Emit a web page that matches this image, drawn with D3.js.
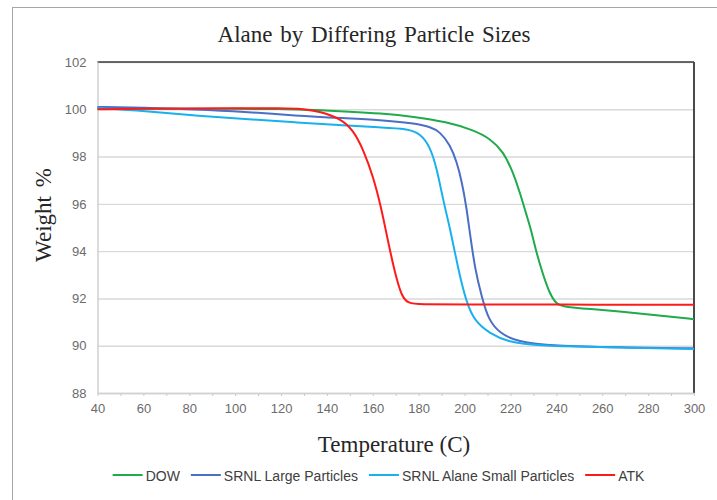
<!DOCTYPE html>
<html>
<head>
<meta charset="utf-8">
<script src="https://cdnjs.cloudflare.com/ajax/libs/d3/7.8.5/d3.min.js"></script>
<style>
  body { margin: 0; background: #fff; }
  svg { display: block; }
</style>
</head>
<body>
<div id="chart"></div>
<script>

// DATA

var seriesNames = ["DOW", "SRNL Large Particles", "SRNL Alane Small Particles", "ATK"]
var seriesColors = ["#1faa4b", "#4a6fc6", "#18b1ee", "#ff1a1a"]

var dowTemp = [40, 60, 80, 100, 120, 135, 150, 163, 178, 192, 204, 211, 217, 221, 224, 227, 229, 231, 234, 237, 240, 243, 255, 268, 285, 300]
var dowWeight = [100.02, 100.02, 100.02, 100.02, 100.02, 99.97, 99.9, 99.83, 99.69, 99.47, 99.12, 98.77, 98.2, 97.36, 96.51, 95.53, 94.9, 94.05, 93.06, 92.22, 91.76, 91.65, 91.55, 91.44, 91.28, 91.12]

var largeTemp = [40, 60, 82, 104, 126, 148, 163, 178, 185, 189.3, 193.7, 196.6, 198.8, 200.9, 202.1, 204.6, 207.5, 210.4, 215.5, 222.7, 238.7, 268, 300]
var largeWeight = [100.1, 100.07, 100.0, 99.9, 99.73, 99.62, 99.55, 99.41, 99.26, 99.05, 98.49, 97.78, 96.94, 95.81, 94.9, 93.2, 92.07, 91.09, 90.52, 90.17, 89.99, 89.93, 89.89]

var smallTemp = [40, 60.7, 82.5, 104.3, 126, 148, 163, 175, 180.6, 185, 187.9, 190.8, 193.7, 197.3, 200.9, 204.6, 211.1, 218.4, 231.5, 268, 300]
var smallWeight = [100.05, 99.93, 99.73, 99.59, 99.45, 99.31, 99.23, 99.18, 98.98, 98.42, 97.5, 96.09, 94.96, 93.2, 91.79, 91.01, 90.52, 90.17, 89.99, 89.93, 89.86]

var atkTemp = [40, 60, 80, 100, 120, 130, 137, 145.7, 151.5, 155.9, 160.2, 163.9, 166.8, 169.7, 172.6, 175.5, 180, 200, 240, 300]
var atkWeight = [100.0, 100.02, 100.04, 100.05, 100.05, 100.02, 99.9, 99.62, 99.12, 98.28, 97.15, 95.74, 94.33, 93.06, 92.07, 91.79, 91.75, 91.74, 91.74, 91.73]

var xTicks = [40, 60, 80, 100, 120, 140, 160, 180, 200, 220, 240, 260, 280, 300]
var xMinorTicks = d3.range(40, 301, 10)
var yTicks = [88, 90, 92, 94, 96, 98, 100, 102]

// SET DIMENSIONS FOR SVG

var W = 717, H = 500
var margin = {top: 62, right: 23, bottom: 107, left: 97.5},
    width = 694 - margin.left,
    height = 393 - margin.top;

var svg = d3.select("#chart").append("svg")
    .attr("width", W)
    .attr("height", H)

// outer chart border, cut off at the right and bottom like the picture
svg.append("rect")
    .attr("x", 12.5)
    .attr("y", 7.5)
    .attr("width", 800)
    .attr("height", 600)
    .attr("fill", "none")
    .attr("stroke", "#a6a6a6")
    .attr("stroke-width", 1)

var g = svg.append("g")
    .attr("transform", "translate(" + margin.left + "," + margin.top + ")")

/* SCALES */

var scaleX = d3.scaleLinear()
    .domain([40, 300])
    .range([0, width])

var scaleY = d3.scaleLinear()
    .domain([88, 102])
    .range([height, 0])

/* GRIDLINES */

g.append("g")
    .call(d3.axisLeft(scaleY).tickValues(yTicks).tickSize(-width).tickFormat(""))
    .call(a => a.select(".domain").remove())
    .call(a => a.selectAll(".tick line")
      .attr("stroke", "#d9d9d9")
      .attr("stroke-width", 1.4))

// dark top and right frame of the plot area
g.append("line")
    .attr("x1", 0).attr("x2", width)
    .attr("y1", 0).attr("y2", 0)
    .attr("stroke", "#3a3a3a")
    .attr("stroke-width", 1.5)

g.append("line")
    .attr("x1", width).attr("x2", width)
    .attr("y1", 0).attr("y2", height)
    .attr("stroke", "#4a4a4a")
    .attr("stroke-width", 2)

/* Y AXIS */

g.append("g")
    .call(d3.axisLeft(scaleY).tickValues(yTicks).tickSize(0).tickPadding(11))
    .call(a => a.select(".domain").attr("stroke", "#d0d0d0").attr("stroke-width", 1.5))
    .call(a => a.selectAll(".tick text")
      .attr("fill", "#6b6b6b")
      .style("font-family", "'Liberation Sans', Arial, sans-serif")
      .style("font-size", "13px"))

/* X AXIS */

g.append("g")
    .attr("transform", "translate(0," + height + ")")
    .call(d3.axisBottom(scaleX).tickValues(xMinorTicks).tickSize(3).tickFormat(""))
    .call(a => a.select(".domain").remove())
    .call(a => a.selectAll(".tick line").attr("stroke", "#c8c8c8"))

g.append("g")
    .attr("transform", "translate(0," + height + ")")
    .call(d3.axisBottom(scaleX).tickValues(xTicks).tickSize(0).tickPadding(11))
    .call(a => a.select(".domain").attr("stroke", "#d0d0d0").attr("stroke-width", 1.5))
    .call(a => a.selectAll(".tick text")
      .attr("fill", "#6b6b6b")
      .style("font-family", "'Liberation Sans', Arial, sans-serif")
      .style("font-size", "13px"))

/* LINES */

var series = [
  {name: seriesNames[0], color: seriesColors[0], t: dowTemp, w: dowWeight},
  {name: seriesNames[1], color: seriesColors[1], t: largeTemp, w: largeWeight},
  {name: seriesNames[2], color: seriesColors[2], t: smallTemp, w: smallWeight},
  {name: seriesNames[3], color: seriesColors[3], t: atkTemp, w: atkWeight}
]

// basis smooths the knees like the instrument trace
var line = d3.line()
    .x(function (d) { return scaleX(d[0]) })
    .y(function (d) { return scaleY(d[1]) })
    .curve(d3.curveBasis)

g.selectAll(".series")
    .data(series)
    .enter()
    .append("path")
      .attr("class", "series")
      .attr("fill", "none")
      .attr("stroke", d => d.color)
      .attr("stroke-width", 2)
      .attr("d", d => line(d.t.map((t, i) => [t, d.w[i]])))

/* TITLE AND AXIS LABELS */

var serif = "'Liberation Serif', 'Times New Roman', serif"

svg.append("text")
    .attr("x", 374)
    .attr("y", 42)
    .attr("text-anchor", "middle")
    .style("font-family", serif)
    .style("font-size", "23px")
    .style("word-spacing", "2px")
    .attr("fill", "#262626")
    .text("Alane by Differing Particle Sizes")

svg.append("text")
    .attr("x", 394)
    .attr("y", 452)
    .attr("text-anchor", "middle")
    .style("font-family", serif)
    .style("font-size", "23px")
    .attr("fill", "#262626")
    .text("Temperature (C)")

svg.append("text")
    .attr("transform", "translate(51,215) rotate(-90)")
    .attr("text-anchor", "middle")
    .style("font-family", serif)
    .style("font-size", "23px")
    .style("word-spacing", "3px")
    .attr("fill", "#262626")
    .text("Weight %")

/* LEGEND */

var legend = svg.append("g")
var lx = 0
var items = legend.selectAll(".item")
    .data(series)
    .enter()
    .append("g")
      .attr("class", "item")

items.append("line")
    .attr("x1", 0).attr("x2", 30)
    .attr("y1", 0).attr("y2", 0)
    .attr("stroke", d => d.color)
    .attr("stroke-width", 2)

items.append("text")
    .attr("x", 33)
    .attr("y", 5.5)
    .style("font-family", "'Liberation Sans', Arial, sans-serif")
    .style("font-size", "14px")
    .attr("fill", "#404040")
    .text(d => d.name)

items.each(function () {
  var item = d3.select(this)
  item.attr("transform", "translate(" + lx + ",0)")
  lx += 33 + item.select("text").node().getComputedTextLength() + 11
})
lx -= 11
legend.attr("transform", "translate(" + (378.5 - lx / 2) + ",475)")

</script>
</body>
</html>
